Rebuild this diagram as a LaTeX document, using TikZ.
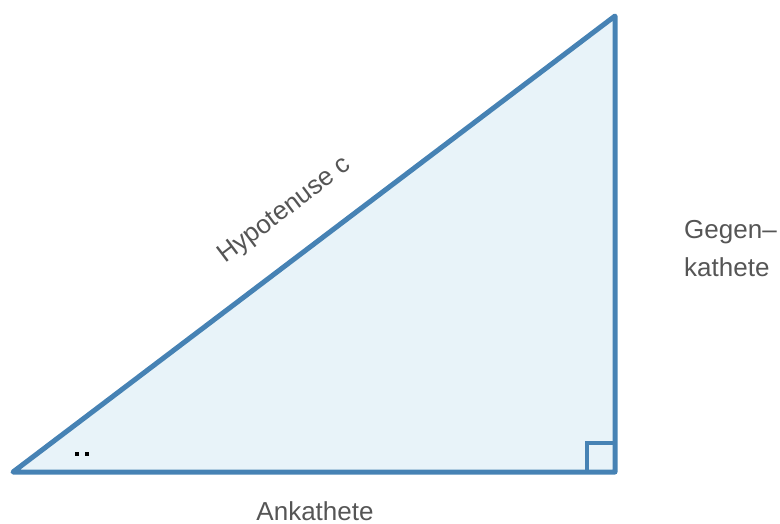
\documentclass[tikz,border=0pt]{standalone}
\usepackage{fontspec}
\setmainfont{Liberation Sans}
\definecolor{edge}{HTML}{4682B4}
\definecolor{fillc}{HTML}{E8F3F9}
\definecolor{txt}{HTML}{555555}
\begin{document}
\begin{tikzpicture}[x=1pt,y=-1pt,
  lbl/.style={text=txt,font=\fontsize{26}{38}\selectfont,inner sep=0pt},
  tri/.style={draw=edge,fill=fillc,line width=5pt,line join=round,line cap=round}]
\useasboundingbox (0,0) rectangle (780,524);
\coordinate (A) at (13,472);
\coordinate (B) at (615,472);
\coordinate (C) at (615,16);
\draw[tri] (A) -- (B) -- (C) -- cycle;
\coordinate (S1) at (587,472);
\coordinate (S2) at (587,443);
\coordinate (S3) at (615,443);
\draw[edge,line width=4pt] (S1) -- (S2) -- (S3);
\node[lbl,rotate=37.1] (hyp) at (285,211) {Hypotenuse c};
\node[lbl,align=left,anchor=west] (geg) at (684,249) {Gegen–\\kathete};
\node[lbl] (ank) at (315,511) {Ankathete};
\fill[black] (75,452) rectangle (79,456);
\fill[black] (85,452) rectangle (89,456);
\end{tikzpicture}
\end{document}
